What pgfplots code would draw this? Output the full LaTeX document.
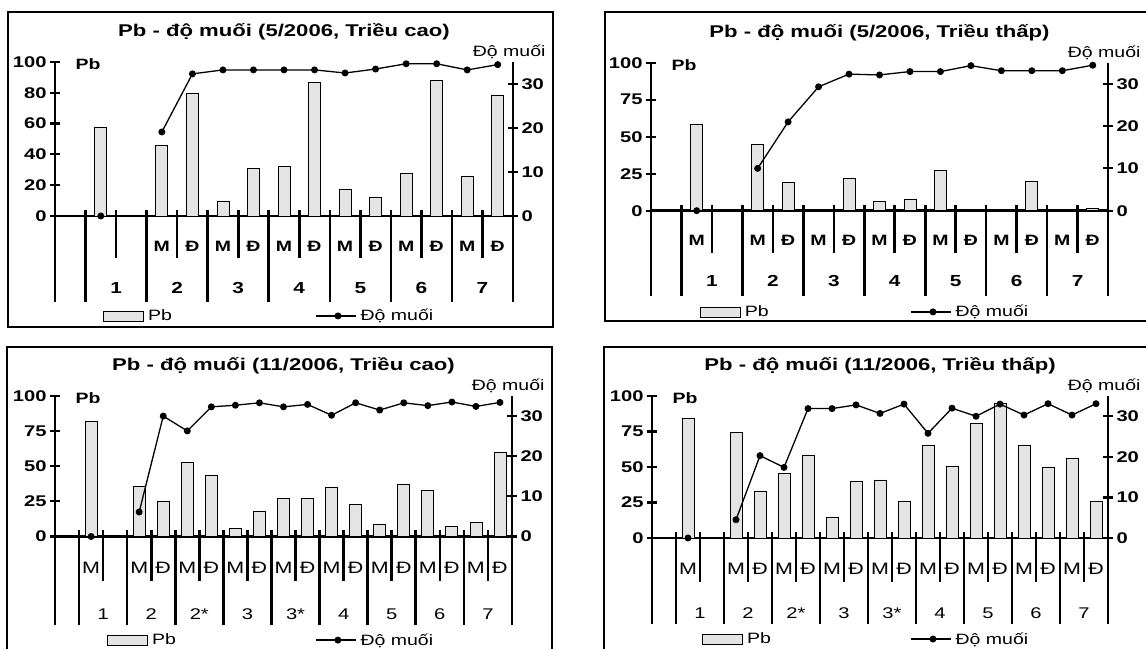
\documentclass[border=0pt]{standalone}
\usepackage{pgfplots}
\pgfplotsset{compat=1.18}
\usepackage{fontspec}
\setmainfont[FakeStretch=1.3]{Liberation Sans}
\definecolor{barfill}{HTML}{E4E4E4}
\newcommand{\tickfont}{\bfseries\fontsize{15.5}{15.5}\selectfont}
\newcommand{\lfont}{\fontsize{15}{15}\selectfont}
\newcommand{\titlefont}{\bfseries\fontsize{17}{17}\selectfont}
\tikzset{sepline/.style={black, line width=2.6pt}}
\pgfplotsset{
  common/.style={
    scale only axis, clip=false, xmin=0,
    /pgf/number format/assume math mode=true,
    tick style={line width=2.2pt, black},
    major tick length=10pt, tick align=center,
    xtick style={draw=none},
    xticklabel style={anchor=center},
    yticklabel style={font=\tickfont},
    unbounded coords=jump,
    legend style={draw=none, fill=none, font=\lfont, inner sep=0pt, anchor=west, legend cell align=left,
      nodes={inner xsep=4pt}},
  },
  leftax/.style={common, axis y line=left, axis x line=bottom,
    y axis line style={-, line width=2.6pt}, x axis line style={draw=none},
    ymax=100,
    ylabel={Pb},
    every axis y label/.style={at={(axis description cs:0,1)}, anchor=west, xshift=17pt, yshift=-2pt, font=\bfseries\lfont},
    every axis title/.style={at={(axis description cs:0.5,1)}, anchor=center, yshift=30pt, font=\titlefont},
    extra y ticks={0}, extra y tick labels={},
    extra y tick style={grid=major, major grid style={black, line width=2.6pt}},
  },
  rightax/.style={common, axis y line=right, axis x line=bottom,
    y axis line style={-, line width=2.6pt}, x axis line style={draw=none},
    ymax=35, ytick={0,10,20,30},
    ylabel={Độ muối},
    every axis y label/.style={at={(axis description cs:1,1)}, anchor=east, xshift=36pt, yshift=10pt, font=\lfont},
  },
  barplot/.style={ybar, bar width=12pt, bar shift=0pt, fill=barfill, draw=black, line width=0.8pt,
    legend image code/.code={\draw[fill=barfill, draw=black, line width=0.8pt] (0pt,-5pt) rectangle (40pt,5pt);}},
  lineplot/.style={black, line width=1.3pt, mark=*, mark size=2.8pt, mark options={fill=black},
    legend image code/.code={\draw[black, line width=1.3pt] (0pt,0pt) -- (40pt,0pt); \fill[black] (22pt,0pt) circle (2.8pt);}},
}
\begin{document}
\begin{tikzpicture}
\useasboundingbox (0pt,0pt) rectangle (1146pt,648pt);
\clip (0pt,0pt) rectangle (1146pt,648pt);
\fill[white] (0pt,0pt) rectangle (1146pt,648pt);

% ---------------- Panel 1: 5/2006 Trieu cao ----------------
\begin{axis}[leftax, at={(55pt,346pt)}, anchor=south west, width=458pt, height=240pt, xmax=15, ymin=-55.84,
  ytick={0,20,40,60,80,100},
  title={Pb - độ muối (5/2006, Triều cao)},
  xtick={3.5,4.5,...,14.5}, xticklabels={M,Đ,M,Đ,M,Đ,M,Đ,M,Đ,M,Đ},
  xticklabel style={yshift=61pt, font=\bfseries\fontsize{15}{15}\selectfont},
  legend style={at={(axis description cs:0.105,-0.058)}}]
\addplot[barplot] coordinates {(1.5,57.5) (3.5,46) (4.5,79.7) (5.5,9.8) (6.5,30.8) (7.5,32.3) (8.5,86.8) (9.5,17) (10.5,12) (11.5,27.8) (12.5,87.9) (13.5,26) (14.5,78)};
\addlegendentry{Pb}
\pgfplotsinvokeforeach{1,3,...,13}{\draw[sepline] (axis cs:#1,0) ++(0pt,6pt) -- (axis cs:#1,-55.84);}
\pgfplotsinvokeforeach{2,4,...,14}{\draw[sepline] (axis cs:#1,0) ++(0pt,6pt) -- ++(0pt,-48pt);}
\end{axis}
\begin{axis}[rightax, at={(55pt,346pt)}, anchor=south west, width=458pt, height=240pt, xmax=15, ymin=-19.55,
  xtick={2,4,...,14}, xticklabels={1,2,3,4,5,6,7},
  xticklabel style={yshift=19pt, font=\bfseries\fontsize{16}{16}\selectfont},
  legend style={at={(axis description cs:0.568,-0.058)}}]
\addplot[lineplot] coordinates {(1.5,0) (2.5,nan) (3.5,19.1) (4.5,32.3) (5.5,33.2) (6.5,33.2) (7.5,33.2) (8.5,33.2) (9.5,32.5) (10.5,33.4) (11.5,34.6) (12.5,34.6) (13.5,33.2) (14.5,34.4)};
\addlegendentry{Độ muối}
\end{axis}

% ---------------- Panel 2: 5/2006 Trieu thap ----------------
\begin{axis}[leftax, at={(651pt,351.5pt)}, anchor=south west, width=457pt, height=233.8pt, xmax=15, ymin=-58,
  ytick={0,25,50,75,100},
  title={Pb - độ muối (5/2006, Triều thấp)},
  xtick={1.5,3.5,4.5,...,14.5}, xticklabels={M,M,Đ,M,Đ,M,Đ,M,Đ,M,Đ,M,Đ},
  xticklabel style={yshift=61.5pt, font=\bfseries\fontsize{15}{15}\selectfont},
  legend style={at={(axis description cs:0.107,-0.066)}}]
\addplot[barplot] coordinates {(1.5,58.5) (3.5,45) (4.5,19) (5.5,0.4) (6.5,22) (7.5,6) (8.5,7.5) (9.5,27) (10.5,0.3) (11.5,1) (12.5,19.5) (13.5,0.3) (14.5,1.5)};
\addlegendentry{Pb}
\pgfplotsinvokeforeach{1,3,...,13}{\draw[sepline] (axis cs:#1,0) ++(0pt,6pt) -- (axis cs:#1,-58);}
\pgfplotsinvokeforeach{2,4,...,14}{\draw[sepline] (axis cs:#1,0) ++(0pt,6pt) -- ++(0pt,-48pt);}
\end{axis}
\begin{axis}[rightax, at={(651pt,351.5pt)}, anchor=south west, width=457pt, height=233.8pt, xmax=15, ymin=-20.3,
  xtick={2,4,...,14}, xticklabels={1,2,3,4,5,6,7},
  xticklabel style={yshift=20.5pt, font=\bfseries\fontsize{16}{16}\selectfont},
  legend style={at={(axis description cs:0.567,-0.066)}}]
\addplot[lineplot] coordinates {(1.5,0) (2.5,nan) (3.5,10) (4.5,21) (5.5,29.3) (6.5,32.3) (7.5,32.1) (8.5,32.9) (9.5,32.9) (10.5,34.3) (11.5,33.1) (12.5,33.1) (13.5,33.1) (14.5,34.4)};
\addlegendentry{Độ muối}
\end{axis}

% ---------------- Panel 3: 11/2006 Trieu cao ----------------
\begin{axis}[leftax, at={(55pt,23pt)}, anchor=south west, width=457pt, height=229pt, xmax=19, ymin=-63,
  ytick={0,25,50,75,100},
  title={Pb - độ muối (11/2006, Triều cao)},
  xtick={1.5,3.5,4.5,...,18.5}, xticklabels={M,M,Đ,M,Đ,M,Đ,M,Đ,M,Đ,M,Đ,M,Đ,M,Đ},
  xticklabel style={yshift=62pt, font=\fontsize{16.5}{16.5}\selectfont},
  legend style={at={(axis description cs:0.114,-0.066)}}]
\addplot[barplot] coordinates {(1.5,82) (3.5,36) (4.5,25) (5.5,52.5) (6.5,43.8) (7.5,5.7) (8.5,18) (9.5,27) (10.5,27) (11.5,34.8) (12.5,22.6) (13.5,8.8) (14.5,36.8) (15.5,33) (16.5,7.4) (17.5,10.2) (18.5,59.5)};
\addlegendentry{Pb}
\pgfplotsinvokeforeach{1,3,...,17}{\draw[sepline] (axis cs:#1,0) ++(0pt,6pt) -- (axis cs:#1,-63);}
\pgfplotsinvokeforeach{2,4,...,18}{\draw[sepline] (axis cs:#1,0) ++(0pt,6pt) -- ++(0pt,-51pt);}
\end{axis}
\begin{axis}[rightax, at={(55pt,23pt)}, anchor=south west, width=457pt, height=229pt, xmax=19, ymin=-22.05,
  xtick={2,4,...,18}, xticklabels={1,2,2*,3,3*,4,5,6,7},
  xticklabel style={yshift=16pt, font=\fontsize{15.5}{15.5}\selectfont},
  legend style={at={(axis description cs:0.569,-0.066)}}]
\addplot[lineplot] coordinates {(1.5,0) (2.5,nan) (3.5,6.1) (4.5,30) (5.5,26.3) (6.5,32.3) (7.5,32.7) (8.5,33.3) (9.5,32.3) (10.5,32.9) (11.5,30.2) (12.5,33.3) (13.5,31.5) (14.5,33.3) (15.5,32.6) (16.5,33.5) (17.5,32.4) (18.5,33.4)};
\addlegendentry{Độ muối}
\end{axis}

% ---------------- Panel 4: 11/2006 Trieu thap ----------------
\begin{axis}[leftax, at={(652pt,24pt)}, anchor=south west, width=456pt, height=228pt, xmax=19, ymin=-60.6,
  ytick={0,25,50,75,100},
  title={Pb - độ muối (11/2006, Triều thấp)},
  xtick={1.5,3.5,4.5,...,18.5}, xticklabels={M,M,Đ,M,Đ,M,Đ,M,Đ,M,Đ,M,Đ,M,Đ,M,Đ},
  xticklabel style={yshift=60pt, font=\fontsize{16.5}{16.5}\selectfont},
  legend style={at={(axis description cs:0.11,-0.066)}}]
\addplot[barplot] coordinates {(1.5,84) (3.5,74.3) (4.5,32.6) (5.5,45.6) (6.5,58.4) (7.5,14.6) (8.5,39.7) (9.5,40.9) (10.5,25.5) (11.5,65) (12.5,50.2) (13.5,80.9) (14.5,94.7) (15.5,65) (16.5,50) (17.5,55.8) (18.5,25.5)};
\addlegendentry{Pb}
\pgfplotsinvokeforeach{1,3,...,17}{\draw[sepline] (axis cs:#1,0) ++(0pt,6pt) -- (axis cs:#1,-60.6);}
\pgfplotsinvokeforeach{2,4,...,18}{\draw[sepline] (axis cs:#1,0) ++(0pt,6pt) -- ++(0pt,-50pt);}
\end{axis}
\begin{axis}[rightax, at={(652pt,24pt)}, anchor=south west, width=456pt, height=228pt, xmax=19, ymin=-21.2,
  xtick={2,4,...,18}, xticklabels={1,2,2*,3,3*,4,5,6,7},
  xticklabel style={yshift=16pt, font=\fontsize{15.5}{15.5}\selectfont},
  legend style={at={(axis description cs:0.566,-0.066)}}]
\addplot[lineplot] coordinates {(1.5,0) (2.5,nan) (3.5,4.5) (4.5,20.3) (5.5,17.4) (6.5,31.9) (7.5,31.9) (8.5,32.8) (9.5,30.7) (10.5,33) (11.5,25.8) (12.5,32) (13.5,30) (14.5,33) (15.5,30.3) (16.5,33.1) (17.5,30.3) (18.5,33.1)};
\addlegendentry{Độ muối}
\end{axis}

% panel frames
\draw[black, line width=2pt] (8pt,636pt) rectangle (553pt,321pt);
\draw[black, line width=2pt] (1160pt,636pt) -- (605pt,636pt) -- (605pt,327pt) -- (1160pt,327pt);
\draw[black, line width=2pt] (7pt,-10pt) -- (7pt,301pt) -- (552pt,301pt) -- (552pt,-10pt);
\draw[black, line width=2pt] (604pt,-10pt) -- (604pt,301pt) -- (1160pt,301pt);
\end{tikzpicture}
\end{document}
